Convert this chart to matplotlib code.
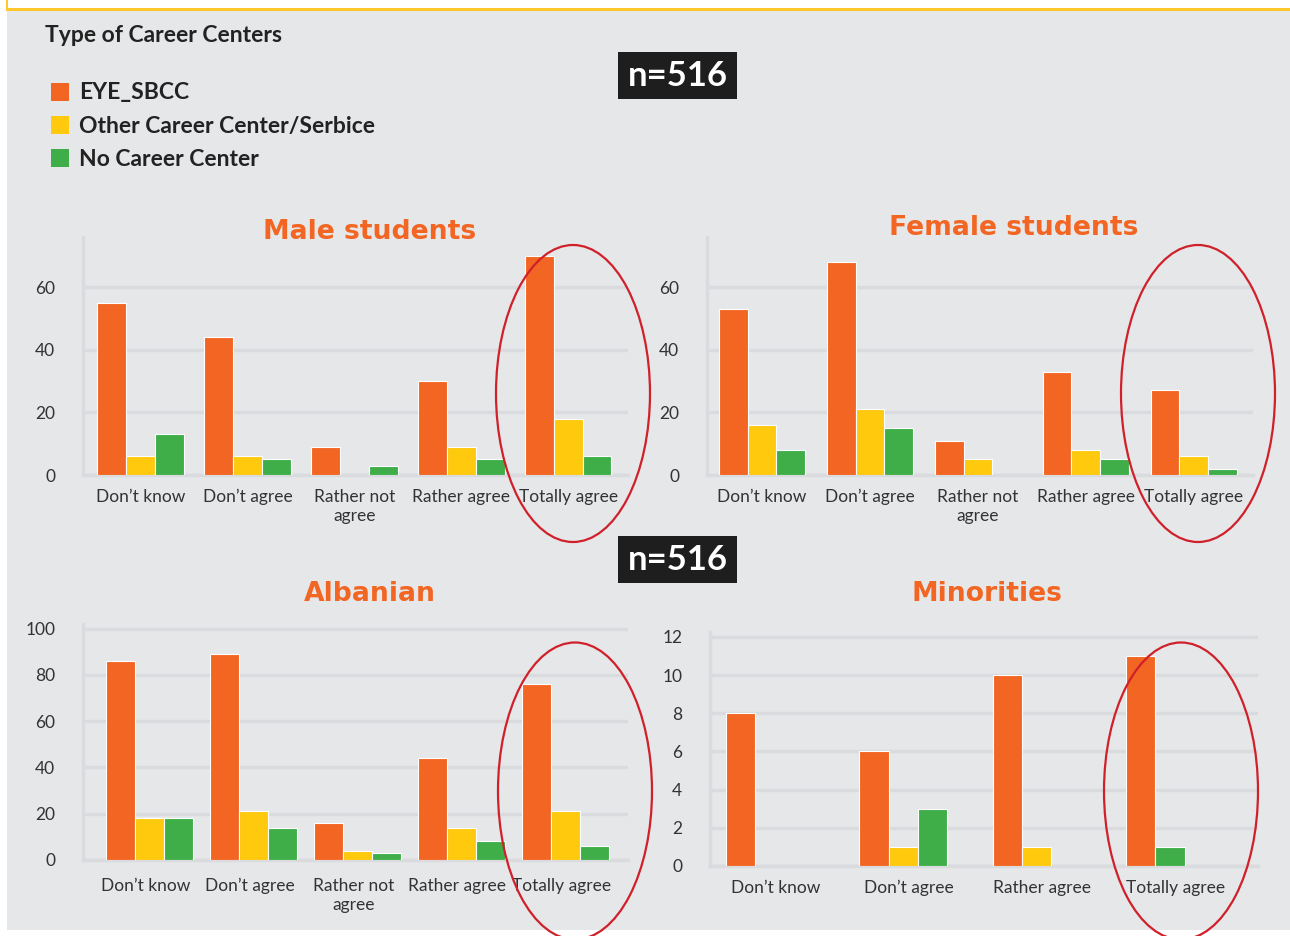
import matplotlib
matplotlib.use("Agg")
import matplotlib.pyplot as plt
from matplotlib.patches import Rectangle, Ellipse
import numpy as np

# ---------------- data ----------------
series_names = ["EYE_SBCC", "Other Career Center/Serbice", "No Career Center"]
cats5 = ["Don\u2019t know", "Don\u2019t agree", "Rather not\nagree", "Rather agree", "Totally agree"]
cats4 = ["Don\u2019t know", "Don\u2019t agree", "Rather agree", "Totally agree"]

male_eye = [55, 44, 9, 30, 70]
male_other = [6, 6, 0, 9, 18]
male_none = [13, 5, 3, 5, 6]

female_eye = [53, 68, 11, 33, 27]
female_other = [16, 21, 5, 8, 6]
female_none = [8, 15, 0, 5, 2]

alb_eye = [86, 89, 16, 44, 76]
alb_other = [18, 21, 4, 14, 21]
alb_none = [18, 14, 3, 8, 6]

min_eye = [8, 6, 10, 11]
min_other = [0, 1, 1, 0]
min_none = [0, 3, 0, 1]

n_label = "n=516"

# ---------------- style ----------------
W, H = 1290, 936
COLORS = ["#F26522", "#FFC90E", "#3FAE49"]
BG = "#E6E7E9"
GRID = "#DADBDE"
TXT = "#333333"
TITLE_C = "#F26522"
FONT = ["Lato", "DejaVu Sans"]
plt.rcParams["font.family"] = FONT

fig = plt.figure(figsize=(W / 100, H / 100), dpi=100)
fig.patch.set_facecolor("white")


def fx(x):
    return x / W


def fy(y):
    return 1 - y / H


# background panel and yellow border
fig.add_artist(Rectangle((fx(7), fy(930)), (W - 7) / W, (930 - 10) / H,
                         transform=fig.transFigure, facecolor=BG, edgecolor="none", zorder=-10))
fig.add_artist(Rectangle((fx(7), fy(11)), (W - 7) / W, 3 / H,
                         transform=fig.transFigure, facecolor="#FFC72C", edgecolor="none", zorder=-9))
fig.add_artist(Rectangle((fx(6), fy(11)), 2 / W, 11 / H,
                         transform=fig.transFigure, facecolor="#FFC72C", edgecolor="none", zorder=-9))


def make_axes(l, t, r, b):
    return fig.add_axes([fx(l), fy(b), (r - l) / W, (b - t) / H])


def style(ax, yticks, ylim, xlim, cats, ticks=None):
    ax.set_facecolor("none")
    ax.set_ylim(*ylim)
    ax.set_xlim(*xlim)
    ax.set_yticks(yticks)
    ax.set_xticks(np.arange(len(cats)) if ticks is None else ticks)
    ax.set_xticklabels(cats, linespacing=1.25)
    ax.yaxis.grid(True, color=GRID, linewidth=2.5)
    ax.set_axisbelow(True)
    for s in ["top", "right"]:
        ax.spines[s].set_visible(False)
    for s in ["left", "bottom"]:
        ax.spines[s].set_color(GRID)
        ax.spines[s].set_linewidth(2.5)
    ax.tick_params(axis="both", length=0, labelsize=12.5, colors=TXT)
    ax.tick_params(axis="y", pad=20)
    ax.tick_params(axis="x", pad=10)


def grouped(ax, data, width, compact=False):
    x = np.arange(len(data[0]))
    for i, vals in enumerate(data):
        for j, v in enumerate(vals):
            if v == 0:
                continue
            slot = i
            if compact:
                slot = sum(1 for k in range(i) if data[k][j] != 0)
            ax.bar(x[j] + (slot - 1) * width, v, width, color=COLORS[i],
                   edgecolor="white", linewidth=0.8, zorder=3)


# Male
ax1 = make_axes(83, 237, 628, 475)
grouped(ax1, [male_eye, male_other, male_none], 0.27)
style(ax1, [0, 20, 40, 60], (0, 76), (-0.54, 4.56), cats5)

# Female
ax2 = make_axes(707, 237, 1253, 475)
grouped(ax2, [female_eye, female_other, female_none], 0.265)
style(ax2, [0, 20, 40, 60], (0, 76), (-0.51, 4.55), cats5)

# Albanian
ax3 = make_axes(83, 624, 628, 860)
grouped(ax3, [alb_eye, alb_other, alb_none], 0.28)
style(ax3, [0, 20, 40, 60, 80, 100], (0, 102), (-0.64, 4.6), cats5,
      ticks=np.arange(5) - 0.04)
ax3.tick_params(axis="x", pad=13)

# Minorities
ax4 = make_axes(710, 632, 1258, 866)
grouped(ax4, [min_eye, min_other, min_none], 0.22, compact=True)
style(ax4, [0, 2, 4, 6, 8, 10, 12], (0, 12.26), (-0.45, 3.66), cats4,
      ticks=np.arange(4) + 0.04)

# titles
for txt, x, y in [("Male students", 370, 232), ("Female students", 1014, 228),
                  ("Albanian", 370, 594), ("Minorities", 987, 594)]:
    fig.text(fx(x), fy(y), txt, ha="center", va="center", fontsize=19.2,
             fontweight="bold", color=TITLE_C, family="DejaVu Sans")

# header and legend
fig.text(fx(45), fy(36), "Type of Career Centers", ha="left", va="center",
         fontsize=16.5, fontweight="bold", color="#222222")
for i, (name, yc) in enumerate(zip(series_names, [92, 125, 158])):
    fig.add_artist(Rectangle((fx(51), fy(yc + 9)), 18 / W, 18 / H, transform=fig.transFigure,
                             facecolor=COLORS[i], edgecolor="none"))
    fig.text(fx(79), fy(yc + 1), name, ha="left", va="center", fontsize=16.5,
             fontweight="bold", color="#222222")

# n boxes
for yt, yb in [(52, 99), (536, 583)]:
    fig.add_artist(Rectangle((fx(618), fy(yb)), (737 - 618) / W, (yb - yt) / H,
                             transform=fig.transFigure, facecolor="#1E1E1E", edgecolor="none"))
    fig.text(fx(677.5), fy((yt + yb) / 2), n_label, ha="center", va="center",
             fontsize=25, fontweight="bold", color="white")

# red ellipses
for cx, cy in [(573, 393.5), (1198, 393.5), (575, 791), (1181, 791)]:
    fig.add_artist(Ellipse((fx(cx), fy(cy)), 154 / W, 297 / H, transform=fig.transFigure,
                           facecolor="none", edgecolor="#D0202A", linewidth=1.6, zorder=10))

fig.savefig("out.png", dpi=100)
